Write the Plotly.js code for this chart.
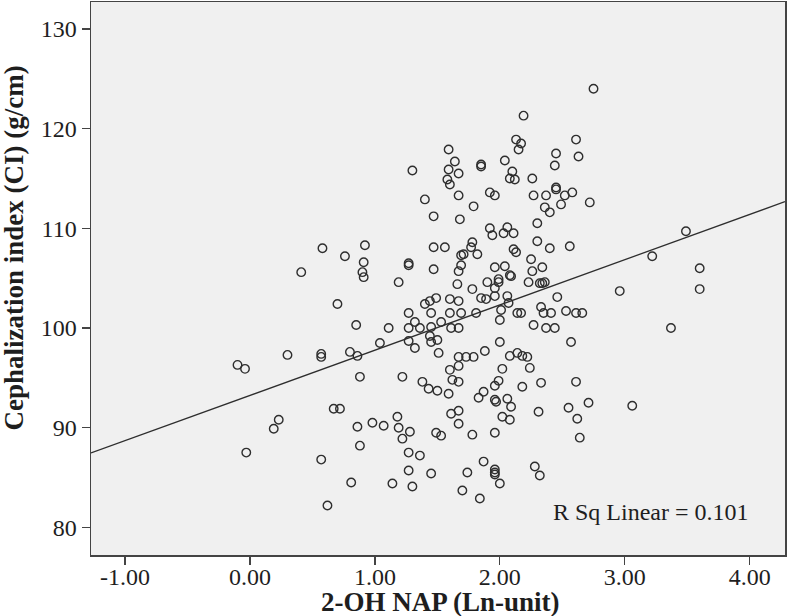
<!DOCTYPE html>
<html>
<head>
<meta charset="utf-8">
<script src="https://cdn.plot.ly/plotly-3.0.1.min.js"></script>
<style>
  html, body { margin: 0; padding: 0; background: #ffffff; }
  #chart { width: 787px; height: 616px; }
</style>
</head>
<body>
<div id="chart"></div>
<script>
// 2-OH NAP (Ln-unit) values
const napLn = [
  -0.10, -0.04, -0.03, 0.19, 0.23, 0.30, 0.41, 0.57, 0.57, 0.57,
  0.58, 0.62, 0.67, 0.70, 0.72, 0.76, 0.80, 0.81, 0.85, 0.86,
  0.86, 0.88, 0.88, 0.91, 0.90, 0.91, 0.92, 0.98, 1.04, 1.07,
  1.11, 1.14, 1.18, 1.19, 1.19, 1.22, 1.22, 1.27, 1.27, 1.27,
  1.27, 1.27, 1.27, 1.27, 1.28, 1.30, 1.30, 1.32, 1.32, 1.36,
  1.36, 1.38, 1.40, 1.40, 1.43, 1.44, 1.44, 1.45, 1.45, 1.45,
  1.45, 1.47, 1.47, 1.47, 1.49, 1.49, 1.50, 1.50, 1.51, 1.53,
  1.53, 1.56, 1.58, 1.59, 1.59, 1.59, 1.60, 1.60, 1.60, 1.60,
  1.61, 1.61, 1.62, 1.64, 1.66, 1.67, 1.67, 1.67, 1.67, 1.67,
  1.67, 1.67, 1.67, 1.67, 1.67, 1.68, 1.69, 1.69, 1.69, 1.70,
  1.71, 1.73, 1.74, 1.77, 1.78, 1.78, 1.78, 1.79, 1.79, 1.81,
  1.82, 1.83, 1.84, 1.85, 1.85, 1.85, 1.87, 1.87, 1.88, 1.89,
  1.90, 1.92, 1.92, 1.94, 1.96, 1.96, 1.96, 1.96, 1.96, 1.96,
  1.96, 1.96, 1.96, 1.96, 1.97, 1.99, 1.99, 1.99, 2.00, 2.00,
  2.01, 2.00, 2.02, 2.02, 2.03, 2.04, 2.04, 2.06, 2.06, 2.06,
  2.07, 2.08, 2.08, 2.09, 2.08, 2.09, 2.08, 2.10, 2.11, 2.11,
  2.12, 2.13, 2.13, 2.14, 2.14, 2.15, 2.17, 2.17, 2.18, 2.18,
  2.19, 2.22, 2.23, 2.24, 2.25, 2.26, 2.26, 2.27, 2.27, 2.28,
  2.30, 2.30, 2.31, 2.32, 2.32, 2.33, 2.33, 2.34, 2.34, 2.35,
  2.36, 2.37, 2.37, 2.40, 2.40, 2.41, 2.44, 2.45, 2.45, 2.45,
  2.44, 2.46, 2.49, 2.52, 2.53, 2.55, 2.56, 2.57, 2.58, 2.61,
  2.61, 2.61, 2.62, 2.63, 2.64, 2.66, 2.71, 2.72, 2.75, 2.96,
  3.06, 3.22, 3.37, 3.49, 3.60, 3.60, 2.36
];

// Cephalization index (CI) (g/cm) values
const cephIndex = [
  96.3, 95.9, 87.5, 89.9, 90.8, 97.3, 105.6, 97.4, 97.1, 86.8,
  108.0, 82.2, 91.9, 102.4, 91.9, 107.2, 97.6, 84.5, 100.3, 97.2,
  90.1, 88.2, 95.1, 106.6, 105.6, 105.1, 108.3, 90.5, 98.5, 90.2,
  100.0, 84.4, 91.1, 90.0, 104.6, 95.1, 88.9, 106.5, 106.3, 101.5,
  100.0, 98.7, 87.5, 85.7, 89.6, 115.8, 84.1, 100.6, 98.0, 100.0,
  87.2, 94.6, 112.9, 102.4, 93.9, 102.7, 99.2, 98.6, 101.5, 100.1,
  85.4, 108.1, 111.2, 105.9, 103.0, 89.5, 98.8, 93.7, 97.5, 89.2,
  100.6, 108.1, 114.9, 117.9, 93.4, 115.9, 114.4, 102.9, 101.5, 95.8,
  100.0, 91.4, 94.8, 116.7, 104.4, 102.7, 105.7, 100.0, 97.1, 96.2,
  94.6, 91.7, 90.4, 115.5, 113.3, 110.9, 107.3, 106.3, 101.5, 83.7,
  107.4, 97.1, 85.5, 108.1, 108.6, 103.9, 89.3, 112.2, 97.1, 101.5,
  107.4, 93.0, 82.9, 103.0, 116.4, 116.2, 86.6, 93.6, 97.7, 102.9,
  104.6, 113.6, 110.0, 109.3, 103.2, 113.3, 106.1, 104.0, 89.5, 85.8,
  85.5, 85.3, 94.2, 92.8, 92.6, 104.9, 104.6, 94.7, 98.6, 100.8,
  101.8, 84.4, 91.1, 95.9, 109.5, 106.2, 116.8, 110.1, 103.2, 92.9,
  102.5, 115.0, 90.8, 92.1, 105.3, 105.2, 97.2, 115.7, 107.9, 109.5,
  114.9, 107.6, 118.9, 97.5, 101.5, 117.9, 118.5, 101.5, 97.2, 94.1,
  121.3, 97.1, 104.6, 96.0, 106.9, 115.0, 105.7, 113.3, 100.3, 86.1,
  110.5, 108.7, 91.6, 85.2, 104.5, 102.1, 94.5, 106.1, 104.5, 101.5,
  112.1, 113.3, 100.0, 111.6, 108.0, 101.5, 116.3, 117.5, 114.1, 113.9,
  100.0, 103.1, 112.4, 113.3, 101.7, 92.0, 108.2, 98.6, 113.6, 118.9,
  94.6, 101.5, 90.9, 117.2, 89.0, 101.5, 92.5, 112.6, 124.0, 103.7,
  92.2, 107.2, 100.0, 109.7, 106.0, 103.9, 104.6
];

// Linear fit
const fitSlope = 4.537;
const fitIntercept = 93.24;
const fitX = [-1.273, 4.283];
const fitY = fitX.map(v => fitIntercept + fitSlope * v);

const xTicks = [-1, 0, 1, 2, 3, 4];
const xTickText = ['-1.00', '0.00', '1.00', '2.00', '3.00', '4.00'];
const yTicks = [80, 90, 100, 110, 120, 130];
const yTickText = ['80', '90', '100', '110', '120', '130'];
const rsqLabel = 'R Sq Linear = 0.101';

const serif = 'Liberation Serif, Times New Roman, serif';
const ink = '#2e2e2e';

const traces = [
  {
    type: 'scatter', mode: 'markers',
    x: napLn, y: cephIndex,
    marker: { symbol: 'circle-open', size: 8.5, color: ink, line: { width: 1.4, color: ink } },
    hoverinfo: 'x+y', showlegend: false
  },
  {
    type: 'scatter', mode: 'lines',
    x: fitX, y: fitY,
    line: { color: ink, width: 1.3 },
    hoverinfo: 'skip', showlegend: false
  }
];

const layout = {
  width: 787, height: 616,
  margin: { l: 91, r: 2, t: 2, b: 61 },
  paper_bgcolor: '#ffffff',
  plot_bgcolor: '#f0f0f0',
  font: { family: serif, size: 24, color: '#1e1e1e' },
  xaxis: {
    range: [-1.273, 4.283],
    tickmode: 'array', tickvals: xTicks, ticktext: xTickText,
    ticks: 'outside', ticklen: 8, tickwidth: 1.3, tickcolor: '#444',
    ticklabelstandoff: -8,
    showgrid: false, zeroline: false,
    showline: true, linecolor: '#444', linewidth: 1.5, mirror: true,
    tickfont: { family: serif, size: 24, color: '#1e1e1e' }
  },
  yaxis: {
    range: [77.23, 132.70],
    tickmode: 'array', tickvals: yTicks, ticktext: yTickText,
    ticks: 'outside', ticklen: 8, tickwidth: 1.3, tickcolor: '#444',
    showgrid: false, zeroline: false,
    showline: true, linecolor: '#444', linewidth: 1.5, mirror: true,
    tickfont: { family: serif, size: 24, color: '#1e1e1e' }
  },
  annotations: [
    {
      text: '<b>Cephalization index (CI) (g/cm)</b>',
      xref: 'paper', yref: 'paper', x: -0.111, y: 0.556,
      xanchor: 'center', yanchor: 'middle', textangle: -90,
      showarrow: false, font: { family: serif, size: 27, color: '#1e1e1e' }
    },
    {
      text: '<b>2-OH NAP (Ln-unit)</b>',
      xref: 'paper', yref: 'paper', x: 0.504, y: -0.054,
      xanchor: 'center', yanchor: 'top',
      showarrow: false, font: { family: serif, size: 27, color: '#1e1e1e' }
    },
    {
      text: rsqLabel,
      xref: 'paper', yref: 'paper', x: (651 - 91) / 694, y: (555 - 512) / 553,
      xanchor: 'center', yanchor: 'middle',
      showarrow: false, font: { family: serif, size: 24, color: '#1e1e1e' }
    }
  ]
};

Plotly.newPlot('chart', traces, layout, { displayModeBar: false, staticPlot: true });
</script>
</body>
</html>
